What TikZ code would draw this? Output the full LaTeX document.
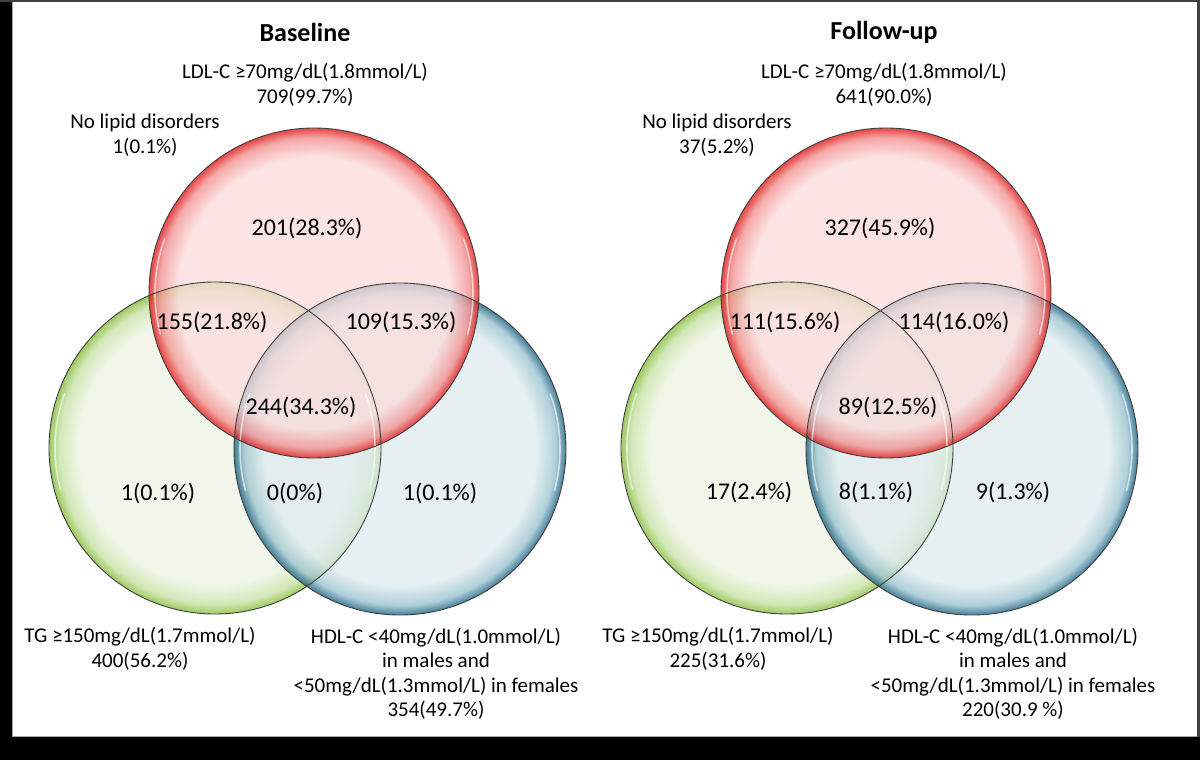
\documentclass[tikz,border=0pt]{standalone}
\usepackage{fontspec}
\setmainfont{Carlito}
\definecolor{rIn}{RGB}{252,220,220}
\definecolor{rMid}{RGB}{242,140,140}
\definecolor{rOut}{RGB}{222,10,10}
\definecolor{gIn}{RGB}{238,244,227}
\definecolor{gMid}{RGB}{196,224,160}
\definecolor{gOut}{RGB}{125,185,45}
\definecolor{bIn}{RGB}{222,235,239}
\definecolor{bMid}{RGB}{150,192,206}
\definecolor{bOut}{RGB}{10,85,120}
\pgfdeclareradialshading{redball}{\pgfpointorigin}{color(0bp)=(rIn); color(20.5bp)=(rIn); color(23.5bp)=(rMid); color(25bp)=(rOut); color(50bp)=(rOut)}
\pgfdeclareradialshading{greenball}{\pgfpointorigin}{color(0bp)=(gIn); color(20.5bp)=(gIn); color(23.5bp)=(gMid); color(25bp)=(gOut); color(50bp)=(gOut)}
\pgfdeclareradialshading{blueball}{\pgfpointorigin}{color(0bp)=(bIn); color(20.5bp)=(bIn); color(23.5bp)=(bMid); color(25bp)=(bOut); color(50bp)=(bOut)}
\begin{document}
\begin{tikzpicture}[x=1pt,y=-1pt,
  lbl/.style={font=\fontsize{21}{24.5}\selectfont, align=center, inner sep=0pt, text=black},
  num/.style={font=\fontsize{24}{28}\selectfont, inner sep=0pt, text=black},
  ttl/.style={font=\fontsize{26}{30}\selectfont\bfseries, inner sep=0pt},
  venn/.style={fill opacity=0.75},
  rimline/.style={draw=black!75, line width=0.9pt},
  gloss/.style={draw=white, line width=1.6pt, opacity=0.6, line cap=round}]
\useasboundingbox (0,0) rectangle (1200,760);
\fill[white] (0,0) rectangle (1200,760);
% frame / shadow
\fill[black] (0,0) rectangle (12,760);
\fill[black] (0,737) rectangle (1200,760);
\fill[black!75] (0,0) rectangle (1200,2);
\fill[black!75] (1197,0) rectangle (1200,737);
\draw[black!35, line width=0.6pt] (12.3,2) -- (12.3,736.7) -- (1197,736.7);

% ---------- Baseline ----------
\begin{scope}
\shade[venn, shading=greenball] (215,448) circle[radius=166];
\shade[venn, shading=blueball] (400,449) circle[radius=166];
\shade[venn, shading=redball] (314,293) circle[radius=165];
\foreach \cx/\cy/\r in {215/448/166, 400/449/166, 314/293/165}{
  \draw[gloss] (\cx,\cy) ++(165:\r-6) arc[start angle=165, end angle=200, radius=\r-6];
  \draw[gloss] (\cx,\cy) ++(-20:\r-6) arc[start angle=-20, end angle=15, radius=\r-6];
}
\draw[rimline] (215,448) circle[radius=166];
\draw[rimline] (400,449) circle[radius=166];
\draw[rimline] (314,293) circle[radius=165];
\end{scope}
\node[ttl] (bt) at (305,32) {Baseline};
\node[lbl] (bldl) at (305,85) {LDL-C ≥70mg/dL(1.8mmol/L)\\709(99.7\%)};
\node[lbl] (bno) at (145,135) {No lipid disorders\\1(0.1\%)};
\node[num] (br) at (307,228) {201(28.3\%)};
\node[num] (brg) at (212,322) {155(21.8\%)};
\node[num] (brb) at (401,322) {109(15.3\%)};
\node[num] (brgb) at (301,407) {244(34.3\%)};
\node[num] (bg) at (158,493) {1(0.1\%)};
\node[num] (bgb) at (295,493) {0(0\%)};
\node[num] (bb) at (440,493) {1(0.1\%)};
\node[lbl] (btg) at (140,649) {TG ≥150mg/dL(1.7mmol/L)\\400(56.2\%)};
\node[lbl] (bhdl) at (436,674) {HDL-C <40mg/dL(1.0mmol/L)\\in males and\\<50mg/dL(1.3mmol/L) in females\\354(49.7\%)};

% ---------- Follow-up ----------
\begin{scope}
\shade[venn, shading=greenball] (787,448) circle[radius=166];
\shade[venn, shading=blueball] (972,449) circle[radius=166];
\shade[venn, shading=redball] (886,293) circle[radius=165];
\foreach \cx/\cy/\r in {787/448/166, 972/449/166, 886/293/165}{
  \draw[gloss] (\cx,\cy) ++(165:\r-6) arc[start angle=165, end angle=200, radius=\r-6];
  \draw[gloss] (\cx,\cy) ++(-20:\r-6) arc[start angle=-20, end angle=15, radius=\r-6];
}
\draw[rimline] (787,448) circle[radius=166];
\draw[rimline] (972,449) circle[radius=166];
\draw[rimline] (886,293) circle[radius=165];
\end{scope}
\node[ttl] (ft) at (884,32) {Follow-up};
\node[lbl] (fldl) at (884,85) {LDL-C ≥70mg/dL(1.8mmol/L)\\641(90.0\%)};
\node[lbl] (fno) at (717,135) {No lipid disorders\\37(5.2\%)};
\node[num] (fr) at (880,228) {327(45.9\%)};
\node[num] (frg) at (785,322) {111(15.6\%)};
\node[num] (frb) at (954,322) {114(16.0\%)};
\node[num] (frgb) at (888,407) {89(12.5\%)};
\node[num] (fg) at (749,492) {17(2.4\%)};
\node[num] (fgb) at (876,492) {8(1.1\%)};
\node[num] (fb) at (1013,492) {9(1.3\%)};
\node[lbl] (ftg) at (718,649) {TG ≥150mg/dL(1.7mmol/L)\\225(31.6\%)};
\node[lbl] (fhdl) at (1013,674) {HDL-C <40mg/dL(1.0mmol/L)\\in males and\\<50mg/dL(1.3mmol/L) in females\\220(30.9 \%)};
\end{tikzpicture}
\end{document}
